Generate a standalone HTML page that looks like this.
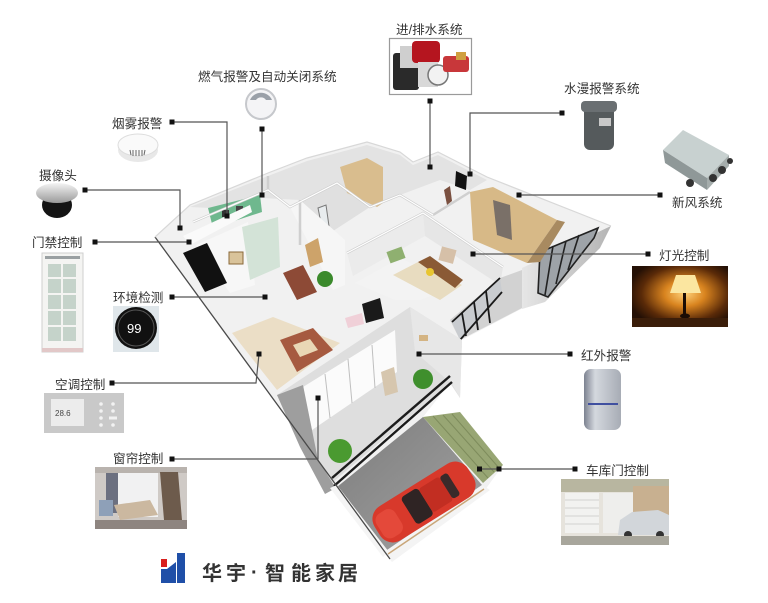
<!DOCTYPE html>
<html><head><meta charset="utf-8">
<style>
html,body{margin:0;padding:0;background:#fff;}
svg{display:block;}
text{font-family:"Liberation Sans","Noto Sans CJK SC",sans-serif;fill:#333;}
</style></head><body>
<svg width="768" height="603" viewBox="0 0 768 603" xmlns="http://www.w3.org/2000/svg">
<defs>
<radialGradient id="lamp" cx="0.55" cy="0.45" r="0.6">
<stop offset="0" stop-color="#ffd27a"/><stop offset="0.35" stop-color="#d9841f"/><stop offset="0.75" stop-color="#5a2a08"/><stop offset="1" stop-color="#241005"/></radialGradient>
<linearGradient id="pir" x1="0" y1="0" x2="1" y2="0"><stop offset="0" stop-color="#7c8290"/><stop offset="0.3" stop-color="#d4d8de"/><stop offset="1" stop-color="#a7acb5"/></linearGradient>
<linearGradient id="cam" x1="0" y1="0" x2="0" y2="1"><stop offset="0" stop-color="#f4f4f4"/><stop offset="1" stop-color="#9a9a9a"/></linearGradient>
<linearGradient id="gar" x1="0" y1="0" x2="1" y2="1"><stop offset="0" stop-color="#7d7d7d"/><stop offset="1" stop-color="#a3a3a3"/></linearGradient>
<linearGradient id="fac" x1="0" y1="0" x2="1" y2="0"><stop offset="0" stop-color="#e6e6e6"/><stop offset="1" stop-color="#b4b4b4"/></linearGradient>
</defs>

<!-- ============ HOUSE ============ -->
<polygon points="155,237 190,205 268,173 307,158 367,142 400,152 413,162 438,152 487,177 611,226 600,246 543,302 523,308 460,341 462,347 450,383 423,417 460,413 503,465 485,490 390,560" fill="#f1f1f1"/>
<!-- back room floors / walls shading -->
<polygon points="190,207 268,176 307,161 367,145 400,155 413,165 438,155 487,180 470,190 440,180 400,195 360,210 330,190 300,200 262,198 210,208" fill="#e3e3e3"/>
<polygon points="290,207 337,183 370,207 330,233" fill="#e0e0e0"/>
<!-- bedroom back wall -->
<polygon points="347,253 423,213 425,236 353,276" fill="#ebebeb"/>
<polygon points="423,213 503,267 500,285 425,236" fill="#e6e6e6"/>
<!-- right facade -->
<polygon points="522,268 611,226 600,248 545,302 522,309" fill="url(#fac)"/>
<polygon points="540,252 598,228 594,238 548,297 538,293" fill="#9ea3a8"/>
<g stroke="#222" stroke-width="1.6" fill="none">
<polyline points="540,252 598,228 594,238 548,297 538,293 540,252"/>
<line x1="553" y1="246" x2="545" y2="295"/><line x1="566" y1="241" x2="556" y2="284"/><line x1="579" y1="235" x2="568" y2="270"/>
</g>
<!-- center windows facade -->
<polygon points="450,320 500,278 522,270 522,308 460,340" fill="#d2d2d2"/>
<polygon points="452,322 500,278 502,292 460,340" fill="#c9ccd0"/>
<g stroke="#1a1a1a" stroke-width="1.8"><line x1="452" y1="322" x2="500" y2="278"/><line x1="462" y1="313" x2="466" y2="336"/><line x1="474" y1="302" x2="478" y2="330"/><line x1="486" y1="291" x2="490" y2="323"/><line x1="460" y1="340" x2="502" y2="292"/></g>
<!-- green room -->
<polygon points="208,208 260,195 262,212 213,228" fill="#6fb88e"/>
<rect x="222" y="210" width="7" height="7" fill="#333"/><rect x="236" y="206" width="7" height="7" fill="#444"/>
<!-- walls (white) -->
<polygon points="183,236 250,205 252,212 190,245" fill="#fafafa"/>
<polygon points="196,245 248,222 255,285 230,293" fill="#f7f7f7"/>
<!-- black door -->
<polygon points="183,253 207,243 227,283 205,292" fill="#111"/>
<!-- glass door -->
<polygon points="242,227 278,217 280,267 250,280" fill="#d3e3d7"/>
<rect x="229" y="252" width="14" height="12" fill="#d9c39a" stroke="#8a6a3a" stroke-width="1"/>
<!-- wood closet top room -->
<polygon points="340,167 367,158 383,167 383,203 377,207 347,193" fill="#d9bd8e"/>
<!-- mirror -->
<polygon points="318,208 326,205 329,226 322,228" fill="#e8ecee" stroke="#777" stroke-width="1"/>
<!-- living partition wall -->
<polygon points="290,207 300,200 345,240 345,285 333,290" fill="#f6f6f6"/>
<polygon points="305,245 318,238 323,262 310,267" fill="#cda36a"/>
<!-- interior wall tops -->
<g stroke="#cfcfcf" stroke-width="2.5" fill="none">
<polyline points="193,222 268,190 290,207 337,183 370,207 400,195 433,215"/>
<polyline points="268,176 268,190"/>
<polyline points="347,253 423,213 503,267"/>
<polyline points="433,215 470,192"/>
<polyline points="300,200 300,245"/>
</g>
<g stroke="#ffffff" stroke-width="1.2" fill="none">
<polyline points="193,222 268,190 290,207 337,183 370,207 400,195 433,215"/>
<polyline points="347,253 423,213 503,267"/>
</g>
<!-- dining table & plant -->
<polygon points="283,273 303,265 317,292 297,300" fill="#8d4a36"/>
<circle cx="325" cy="279" r="8" fill="#3b8a2c"/>
<!-- bedroom center -->
<polygon points="355,283 400,258 447,280 447,290 420,300 395,300" fill="#f3f3f3"/>
<polygon points="393,275 418,262 462,285 440,300" fill="#e8dcc0"/>
<polygon points="418,262 430,256 463,280 455,288" fill="#8a5a35"/>
<circle cx="430" cy="272" r="4" fill="#e8c530"/>
<rect x="388" y="249" width="16" height="12" fill="#8fb070" transform="rotate(-20 396 255)"/>
<rect x="440" y="248" width="15" height="14" fill="#d6c0a8" transform="rotate(15 447 255)"/>
<!-- right closet room -->
<polygon points="470,192 493,187 557,220 543,240 527,263 473,240" fill="#d7b987"/>
<polygon points="493,200 510,205 512,240 497,235" fill="#7a7068"/>
<polygon points="527,263 543,240 557,220 565,222 540,262" fill="#a88a60"/>
<polygon points="444,190 450,186 452,201 447,205" fill="#7a5040"/>
<polygon points="456,171 467,176 466,190 455,186" fill="#111"/>
<!-- TV -->
<polygon points="362,304 380,298 384,318 366,323" fill="#1a1a1a"/>
<polygon points="345,318 362,313 364,324 348,328" fill="#f0d0d8"/>
<!-- sofa area -->
<polygon points="232,333 273,317 340,343 277,390" fill="#ebdec6"/>
<polygon points="280,340 313,328 333,350 297,372" fill="#a65a40"/>
<polygon points="293,345 310,339 318,350 300,357" fill="#e9d7b5"/>
<!-- balcony -->
<polygon points="277,395 410,307 462,340 460,398 450,383 333,482 318,460" fill="#dedede"/>
<polygon points="303,387 395,330 397,372 312,430" fill="#fbfbfb"/>
<g stroke="#bfbfbf" stroke-width="1"><line x1="325" y1="374" x2="330" y2="418"/><line x1="348" y1="359" x2="352" y2="403"/><line x1="372" y1="345" x2="375" y2="388"/></g>
<polygon points="410,307 462,340 460,398 452,384 415,352" fill="#e7e7e7"/>
<polygon points="277,395 303,385 318,460 336,488 325,494 300,447" fill="#9e9e9e"/>
<polygon points="381,372 394,367 398,392 385,396" fill="#d6c6ae"/>
<circle cx="423" cy="379" r="10" fill="#3f8f2d"/>
<circle cx="340" cy="451" r="12" fill="#4a9a30"/>
<rect x="419" y="335" width="9" height="6" fill="#d4b483"/>
<!-- railing -->
<g stroke="#1c1c1c" stroke-width="2.4"><line x1="334" y1="486" x2="452" y2="382"/><line x1="332" y1="478" x2="450" y2="376"/></g>
<!-- garage -->
<polygon points="337,487 423,417 482,485 388,552" fill="url(#gar)"/>
<polygon points="384,552 482,485 490,490 392,562" fill="#f4f4f4"/>
<line x1="388" y1="554" x2="484" y2="489" stroke="#c9a679" stroke-width="1.5"/>
<polygon points="330,488 337,485 389,552 383,557" fill="#f5f5f5"/>
<polygon points="423,417 460,412 503,465 483,483" fill="#98a674"/>
<g stroke="#7e8c5c" stroke-width="1"><line x1="433" y1="416" x2="488" y2="478"/><line x1="443" y1="415" x2="494" y2="472"/><line x1="452" y1="414" x2="499" y2="468"/></g>
<!-- car -->
<g transform="translate(424,502) rotate(-32)">
<rect x="-55" y="-20" width="110" height="40" rx="15" fill="#d8392b"/>
<rect x="-18" y="-16" width="20" height="32" rx="4" fill="#2f2424"/>
<rect x="2" y="-14" width="24" height="28" rx="3" fill="#c22e22"/>
<rect x="26" y="-13" width="9" height="26" rx="3" fill="#3a2a2a"/>
<rect x="-52" y="-14" width="22" height="28" rx="8" fill="#e4493a"/>
</g>
<!-- outer edge line -->
<line x1="155" y1="237" x2="390" y2="559" stroke="#4a4a4a" stroke-width="1.3"/>
<polyline points="155,237 190,205 268,173 307,158 367,142 400,152 413,162 438,152 487,177 611,226" fill="none" stroke="#d8d8d8" stroke-width="1.2"/>

<!-- ============ CONNECTORS ============ -->
<g stroke="#555" stroke-width="1.2" fill="none">
<polyline points="172,122 227,122 227,216"/>
<line x1="262" y1="129" x2="262" y2="195"/>
<polyline points="85,190 180,190 180,228"/>
<line x1="95" y1="242" x2="189" y2="242"/>
<line x1="172" y1="297" x2="265" y2="297"/>
<polyline points="112,383 256,383 259,354"/>
<polyline points="172,459 318,459 318,398"/>
<line x1="430" y1="101" x2="430" y2="167"/>
<polyline points="562,113 470,113 470,174"/>
<line x1="660" y1="195" x2="519" y2="195"/>
<line x1="648" y1="254" x2="473" y2="254"/>
<line x1="570" y1="354" x2="419" y2="354"/>
<line x1="575" y1="469" x2="480" y2="469"/>
</g>
<g fill="#111">
<rect x="169.5" y="119.5" width="5" height="5"/><rect x="224.5" y="213.5" width="5" height="5"/>
<rect x="259.5" y="126.5" width="5" height="5"/><rect x="259.5" y="192.5" width="5" height="5"/>
<rect x="82.5" y="187.5" width="5" height="5"/><rect x="177.5" y="225.5" width="5" height="5"/>
<rect x="92.5" y="239.5" width="5" height="5"/><rect x="186.5" y="239.5" width="5" height="5"/>
<rect x="169.5" y="294.5" width="5" height="5"/><rect x="262.5" y="294.5" width="5" height="5"/>
<rect x="109.5" y="380.5" width="5" height="5"/><rect x="256.5" y="351.5" width="5" height="5"/>
<rect x="169.5" y="456.5" width="5" height="5"/><rect x="315.5" y="395.5" width="5" height="5"/>
<rect x="427.5" y="98.5" width="5" height="5"/><rect x="427.5" y="164.5" width="5" height="5"/>
<rect x="559.5" y="110.5" width="5" height="5"/><rect x="467.5" y="171.5" width="5" height="5"/>
<rect x="657.5" y="192.5" width="5" height="5"/><rect x="516.5" y="192.5" width="5" height="5"/>
<rect x="645.5" y="251.5" width="5" height="5"/><rect x="470.5" y="251.5" width="5" height="5"/>
<rect x="567.5" y="351.5" width="5" height="5"/><rect x="416.5" y="351.5" width="5" height="5"/>
<rect x="572.5" y="466.5" width="5" height="5"/><rect x="496.5" y="466.5" width="5" height="5"/><rect x="477" y="466.5" width="5" height="5"/>
</g>

<!-- ============ DEVICES ============ -->
<!-- gas detector -->
<circle cx="261" cy="104" r="15" fill="#f4f4f6" stroke="#c6c8cc" stroke-width="2"/>
<path d="M250,100 A12,12 0 0 1 272,100 L266,100 A6,6 0 0 0 256,100 Z" fill="#9aa0a8"/>
<!-- smoke detector -->
<ellipse cx="138" cy="150" rx="20" ry="12" fill="#e8e8e8"/>
<ellipse cx="138" cy="145" rx="20" ry="11" fill="#fafafa" stroke="#ddd"/>
<g stroke="#666" stroke-width="1"><line x1="130" y1="150" x2="131" y2="155"/><line x1="133" y1="150" x2="133" y2="156"/><line x1="136" y1="150" x2="136" y2="156"/><line x1="139" y1="150" x2="139" y2="156"/><line x1="142" y1="150" x2="142" y2="156"/><line x1="145" y1="150" x2="144" y2="155"/></g>
<!-- camera -->
<ellipse cx="57" cy="205" rx="15" ry="13" fill="#141414"/>
<ellipse cx="57" cy="193" rx="21" ry="10" fill="url(#cam)"/>
<!-- door -->
<rect x="42" y="253" width="41" height="99" fill="#f4f4f2" stroke="#cfcfcf"/>
<rect x="45" y="256" width="35" height="3" fill="#9aa0a2"/>
<g fill="#c5d3ca"><rect x="48" y="264" width="13" height="13"/><rect x="63" y="264" width="13" height="13"/><rect x="48" y="279" width="13" height="14"/><rect x="63" y="279" width="13" height="14"/><rect x="48" y="295" width="13" height="14"/><rect x="63" y="295" width="13" height="14"/><rect x="48" y="311" width="13" height="14"/><rect x="63" y="311" width="13" height="14"/><rect x="48" y="327" width="13" height="14"/><rect x="63" y="327" width="13" height="14"/></g>
<rect x="42" y="348" width="41" height="4" fill="#e2c8c8"/>
<!-- thermostat -->
<rect x="113" y="306" width="46" height="46" fill="#dfe6ea"/>
<circle cx="136" cy="328" r="21" fill="#111"/>
<circle cx="136" cy="328" r="18" fill="none" stroke="#555" stroke-width="1"/>
<text x="127" y="333" style="font-size:13px;fill:#fff;font-family:'Liberation Sans',sans-serif">99</text>
<!-- AC panel -->
<rect x="44" y="393" width="80" height="40" fill="#c9c9c9"/>
<rect x="51" y="399" width="33" height="27" fill="#ececec"/>
<text x="55" y="416" style="font-size:8px;fill:#444">28.6</text>
<g fill="#f2f2f2"><circle cx="101" cy="404" r="1.8"/><circle cx="113" cy="404" r="1.8"/><circle cx="101" cy="411" r="1.8"/><circle cx="113" cy="411" r="1.8"/><circle cx="101" cy="418" r="1.8"/><rect x="109" y="416.5" width="8" height="3"/><circle cx="101" cy="425" r="1.8"/><circle cx="113" cy="425" r="1.8"/></g>
<!-- curtain photo -->
<rect x="95" y="467" width="92" height="62" fill="#cfcac6"/>
<rect x="118" y="472" width="40" height="45" fill="#f1f1f2"/>
<rect x="95" y="467" width="92" height="6" fill="#b9b3ae"/>
<rect x="106" y="473" width="12" height="40" fill="#6c7080"/>
<polygon points="160,472 178,472 182,520 164,520" fill="#6d5b4c"/>
<polygon points="114,505 150,500 158,515 120,520" fill="#cbb8a0"/>
<rect x="95" y="520" width="92" height="9" fill="#8e8580"/>
<rect x="99" y="500" width="14" height="16" fill="#8ea0b8"/>
<!-- pump -->
<rect x="389.5" y="38.5" width="82" height="56" fill="#fff" stroke="#9a9a9a" stroke-width="1.2"/>
<rect x="393" y="53" width="26" height="37" rx="3" fill="#2a2a2a"/>
<rect x="400" y="46" width="20" height="22" fill="#cfcfcf"/>
<rect x="412" y="41" width="28" height="22" rx="4" fill="#b5151f"/>
<rect x="418" y="62" width="20" height="25" fill="#d8d8d8"/>
<circle cx="438" cy="75" r="10" fill="#f2f2f2" stroke="#777" stroke-width="1.5"/>
<rect x="443" y="56" width="26" height="16" rx="3" fill="#c8373a"/>
<rect x="456" y="52" width="10" height="8" fill="#d0a040"/>
<!-- water leak sensor -->
<rect x="584" y="104" width="30" height="46" rx="6" fill="#555a5c"/>
<rect x="581" y="101" width="36" height="11" rx="4" fill="#6a6f72"/>
<rect x="599" y="118" width="12" height="8" fill="#c8c8c8"/>
<!-- fresh air box -->
<polygon points="663,150 683,130 729,155 707,178" fill="#c8d1d0"/>
<polygon points="663,150 707,178 707,190 665,163" fill="#8f9898"/>
<polygon points="707,178 729,155 729,166 707,190" fill="#a5adac"/>
<g fill="#333"><circle cx="713" cy="178" r="4"/><circle cx="722" cy="170" r="4"/><circle cx="730" cy="161" r="3"/><circle cx="690" cy="183" r="4"/></g>
<!-- lamp photo -->
<rect x="632" y="266" width="96" height="61" fill="url(#lamp)"/>
<polygon points="676,275 695,275 701,293 670,293" fill="#fbe6a0"/>
<rect x="683" y="293" width="3" height="22" fill="#1a0c04"/>
<ellipse cx="685" cy="316" rx="5" ry="2.5" fill="#1a0c04"/>
<rect x="632" y="318" width="96" height="9" fill="#3b1e0a"/>
<!-- PIR -->
<rect x="584" y="369" width="37" height="61" rx="7" fill="url(#pir)"/>
<rect x="588" y="403" width="30" height="2" fill="#4050a0"/>
<!-- garage photo -->
<rect x="561" y="479" width="108" height="66" fill="#e6e3dc"/>
<rect x="561" y="479" width="108" height="13" fill="#b8b6a0"/>
<rect x="565" y="493" width="34" height="40" fill="#f2f2f0"/>
<rect x="603" y="493" width="30" height="40" fill="#eeeeec"/>
<g stroke="#c8c8c6" stroke-width="0.8"><line x1="565" y1="500" x2="599" y2="500"/><line x1="565" y1="508" x2="599" y2="508"/><line x1="565" y1="516" x2="599" y2="516"/><line x1="565" y1="524" x2="599" y2="524"/></g>
<rect x="633" y="486" width="36" height="30" fill="#c8b090"/>
<path d="M618,535 L620,520 L632,512 L658,510 L669,515 L669,535 Z" fill="#d2d6da"/>
<circle cx="628" cy="535" r="4" fill="#333"/><circle cx="660" cy="535" r="4" fill="#333"/>
<rect x="561" y="536" width="108" height="9" fill="#a8a69c"/>

<!-- ============ LOGO ============ -->
<rect x="161" y="559" width="6" height="8" fill="#d8201e"/>
<rect x="161" y="569" width="6" height="14" fill="#1f4fa8"/>
<polygon points="167,569 176,562 176,583 167,583" fill="#1f4fa8"/>
<rect x="177" y="553" width="8" height="30" fill="#1f4fa8"/>
<g style="font-size:20px;font-weight:bold">
<text x="202" y="580" fill="#222">华</text><text x="226" y="580" fill="#222">宇</text><text x="251" y="579" fill="#222">·</text><text x="265" y="580" fill="#222">智</text><text x="291" y="580" fill="#222">能</text><text x="315" y="580" fill="#222">家</text><text x="338" y="580" fill="#222">居</text>
</g>

<!-- ============ LABELS ============ -->
<g style="font-size:12.6px">
<text x="198" y="81">燃气报警及自动关闭系统</text>
<text x="112" y="128">烟雾报警</text>
<text x="39" y="180">摄像头</text>
<text x="32" y="247">门禁控制</text>
<text x="113" y="302">环境检测</text>
<text x="55" y="389">空调控制</text>
<text x="113" y="463">窗帘控制</text>
<text x="396" y="34">进/排水系统</text>
<text x="564" y="93">水漫报警系统</text>
<text x="672" y="207">新风系统</text>
<text x="659" y="260">灯光控制</text>
<text x="581" y="360">红外报警</text>
<text x="586" y="475">车库门控制</text>
</g>
</svg>
</body></html>
